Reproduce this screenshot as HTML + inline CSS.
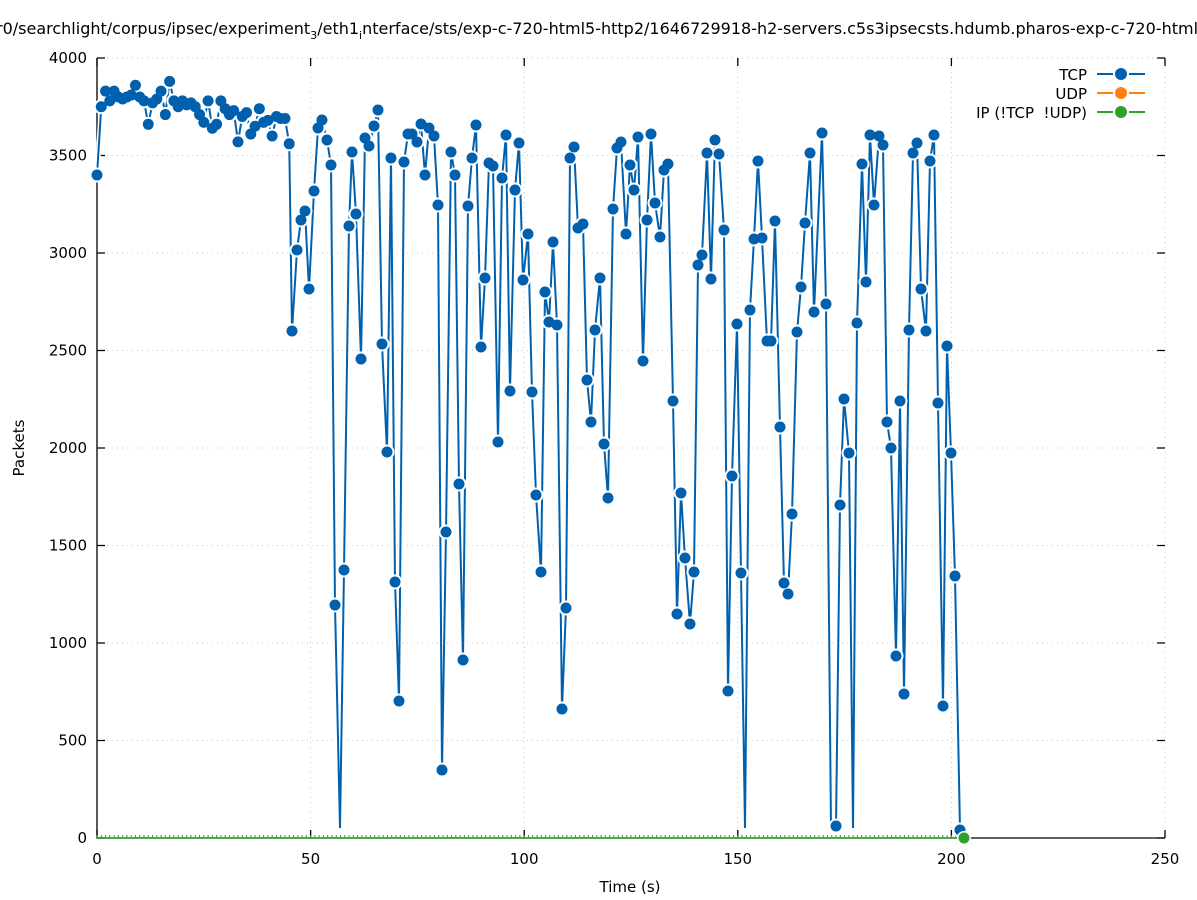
<!DOCTYPE html>
<html><head><meta charset="utf-8"><style>html,body{margin:0;padding:0;background:#fff;overflow:hidden}svg{display:block}</style></head>
<body>
<svg id="s" width="1197" height="900" xmlns="http://www.w3.org/2000/svg" font-family="DejaVu Sans, Liberation Sans, sans-serif">
<rect width="1197" height="900" fill="#fff"/>
<text x="-4" y="34" font-size="16" fill="#000">r0/searchlight/corpus/ipsec/experiment<tspan font-size="11" dy="5">3</tspan><tspan dy="-5">/eth1</tspan><tspan font-size="11" dy="5">i</tspan><tspan dy="-5">nterface/sts/exp-c-720-html5-http2/1646729918-h2-servers.c5s3ipsecsts.hdumb.pharos-exp-c-720-html5</tspan></text>
<g id="grid" stroke="#c8c8c8" stroke-width="1" stroke-dasharray="1,4"></g>
<g id="axes" stroke="#000" stroke-width="1.3" fill="none"></g>
<g id="labels" font-size="15" fill="#000"></g>
<text x="630" y="892" font-size="15" text-anchor="middle">Time (s)</text>
<text x="24" y="448" font-size="15" text-anchor="middle" transform="rotate(-90 24 448)">Packets</text>
<g id="green"></g>
<g id="series"></g>
<g font-size="15" text-anchor="end">
<text x="1087" y="80">TCP</text>
<text x="1087" y="99">UDP</text>
<text x="1087" y="118" xml:space="preserve">IP (!TCP  !UDP)</text>
<line x1="1097" y1="74" x2="1145" y2="74" stroke="#0060ad" stroke-width="2"/><circle cx="1121" cy="74" r="8" fill="#fff"/><circle cx="1121" cy="74" r="6" fill="#0060ad"/>
<line x1="1097" y1="93" x2="1145" y2="93" stroke="#ff7f0e" stroke-width="2"/><circle cx="1121" cy="93" r="8" fill="#fff"/><circle cx="1121" cy="93" r="6" fill="#ff7f0e"/>
<line x1="1097" y1="112" x2="1145" y2="112" stroke="#2ca02c" stroke-width="2"/><circle cx="1121" cy="112" r="8" fill="#fff"/><circle cx="1121" cy="112" r="6" fill="#2ca02c"/>
</g>
</svg>
<script>
var NS="http://www.w3.org/2000/svg";
function el(p,t,a){var e=document.createElementNS(NS,t);for(var k in a)e.setAttribute(k,a[k]);document.getElementById(p).appendChild(e);return e;}
var X0=97,X1=1165,Y0=838,Y1=58;
function px(t){return X0+t*(X1-X0)/250;} function py(v){return Y0-v*(Y0-Y1)/4000;}
for(var v=500;v<=4000;v+=500){el("grid","line",{x1:X0,x2:X1,y1:py(v),y2:py(v)});}
for(var t=50;t<=250;t+=50){el("grid","line",{x1:px(t),x2:px(t),y1:Y0,y2:Y1});}
el("axes","path",{d:"M"+X0+","+Y1+"V"+Y0+"H"+X1});
for(var v=0;v<=4000;v+=500){var y=py(v);el("axes","path",{d:"M"+X0+","+y+"h8M"+X1+","+y+"h-8"});var tx=el("labels","text",{x:87,y:y+5,"text-anchor":"end"});tx.textContent=v;}
for(var t=0;t<=250;t+=50){var x=px(t);el("axes","path",{d:"M"+x+","+Y0+"v-8M"+x+","+Y1+"v8"});var tx=el("labels","text",{x:x,y:864,"text-anchor":"middle"});tx.textContent=t;}
var early=[3400,3750,3830,3780,3830,3800,3790,3800,3810,3860,3800,3780,3660,3770,3790,3830,3710,3880,3780,3750,3780,3760,3770,3750,3710,3670,3780,3640,3660,3780,3740,3710,3730,3570,3700,3720,3610,3650,3740,3670,3680,3600,3700,3690,3690,3560];
var pts=[];
for(var i=0;i<early.length;i++)pts.push([px(i),py(early[i])]);
var late=[[292,331],[297,250],[301,220],[305,211],[309,289],[314,191],[318,128],[322,120],[327,140],[331,165],[335,605],[340,828,1],[344,570],[349,226],[352,152],[356,214],[361,359],[365,138],[369,146],[374,126],[378,110],[382,344],[387,452],[391,158],[395,582],[399,701],[404,162],[408,134],[412,134],[417,142],[421,124],[425,175],[429,128],[434,136],[438,205],[442,770],[446,532],[451,152],[455,175],[459,484],[463,660],[468,206],[472,158],[476,125],[481,347],[485,278],[489,163],[493,166],[498,442],[502,178],[506,135],[510,391],[515,190],[519,143],[523,280],[528,234],[532,392],[536,495],[541,572],[545,292],[549,322],[553,242],[557,325],[562,709],[566,608],[570,158],[574,147],[578,228],[583,224],[587,380],[591,422],[595,330],[600,278],[604,444],[608,498],[613,209],[617,148],[621,142],[626,234],[630,165],[634,190],[638,137],[643,361],[647,220],[651,134],[655,203],[660,237],[664,170],[668,164],[673,401],[677,614],[681,493],[685,558],[690,624],[694,572],[698,265],[702,255],[707,153],[711,279],[715,140],[719,154],[724,230],[728,691],[732,476],[737,324],[741,573],[745,828,1],[750,310],[754,239],[758,161],[762,238],[767,341],[771,341],[775,221],[780,427],[784,583],[788,594],[792,514],[797,332],[801,287],[805,223],[810,153],[814,312],[822,133],[826,304],[831,828,1],[836,826],[840,505],[844,399],[849,453],[853,828,1],[857,323],[862,164],[866,282],[870,135],[874,205],[879,136],[883,145],[887,422],[891,448],[896,656],[900,401],[904,694],[909,330],[913,153],[917,143],[921,289],[926,331],[930,161],[934,135],[938,403],[943,706],[947,346],[951,453],[955,576],[960,830]];
pts=pts.concat(late);
var d="M"+pts.map(function(p){return p[0]+","+p[1];}).join("L");
el("green","line",{x1:X0,x2:964,y1:Y0,y2:Y0,stroke:"#2ca02c","stroke-width":1.5});
for(var t=0;t<=202;t++){el("green","line",{x1:px(t),x2:px(t),y1:Y0-3,y2:Y0,stroke:"#2ca02c","stroke-width":1});}
el("series","path",{d:d,fill:"none",stroke:"#fff","stroke-width":5,"stroke-linejoin":"round"});
el("series","path",{d:d,fill:"none",stroke:"#0060ad","stroke-width":2});
pts.forEach(function(p){if(!p[2])el("series","circle",{cx:p[0],cy:p[1],r:7.5,fill:"#fff"});});
pts.forEach(function(p){if(!p[2])el("series","circle",{cx:p[0],cy:p[1],r:5.5,fill:"#0060ad"});});
el("series","circle",{cx:964,cy:838,r:7,fill:"#fff"});
el("series","circle",{cx:964,cy:838,r:5.5,fill:"#2ca02c"});
</script>
</body></html>
